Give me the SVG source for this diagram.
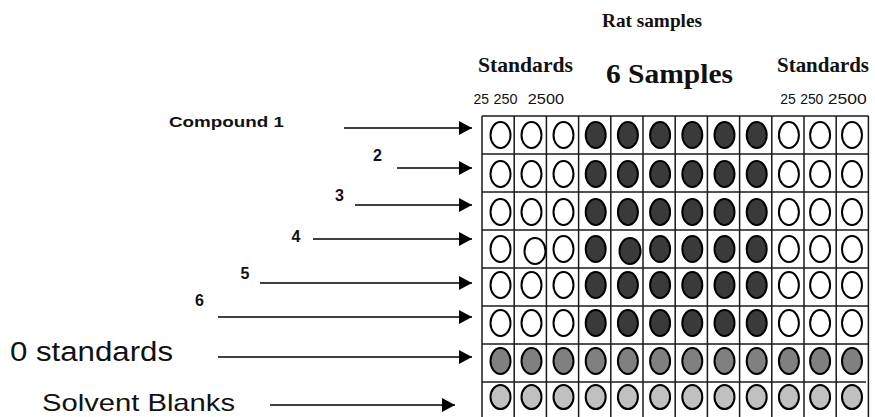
<svg xmlns="http://www.w3.org/2000/svg" width="875" height="417" viewBox="0 0 875 417">
<defs>
<marker id="ah" markerWidth="13" markerHeight="14" refX="13" refY="7" orient="auto" markerUnits="userSpaceOnUse">
<path d="M0,0 L13,7 L0,14 Z" fill="#000"/>
</marker>
<style>
.serif{font-family:"Liberation Serif","Times New Roman",serif;font-weight:bold;fill:#111}
.sans{font-family:"Liberation Sans",Arial,sans-serif;fill:#111}
.b{font-weight:bold}
.grid line{stroke:#1a1a1a;stroke-width:1.5}
.w{fill:#fff;stroke:#000;stroke-width:2}
.d{fill:#3a3a3a;stroke:#000;stroke-width:2}
.m{fill:#808080;stroke:#000;stroke-width:2}
.l{fill:#c0c0c0;stroke:#000;stroke-width:2}
.conn line{stroke:#000;stroke-width:1.3;marker-end:url(#ah)}
</style>
</defs>
<rect width="875" height="417" fill="#fff"/>

<g id="header">
<text class="serif" x="602" y="27" font-size="18" textLength="100" lengthAdjust="spacingAndGlyphs">Rat samples</text>
<text class="serif" x="478" y="72" font-size="21" textLength="95" lengthAdjust="spacingAndGlyphs">Standards</text>
<text class="serif" x="606" y="83" font-size="28" textLength="127" lengthAdjust="spacingAndGlyphs">6 Samples</text>
<text class="serif" x="777" y="72" font-size="21" textLength="92" lengthAdjust="spacingAndGlyphs">Standards</text>
<g class="sans" font-size="15">
<text x="473.5" y="104" textLength="15.5" lengthAdjust="spacingAndGlyphs">25</text>
<text x="493.5" y="104" textLength="24" lengthAdjust="spacingAndGlyphs">250</text>
<text x="527.8" y="104" textLength="36.2" lengthAdjust="spacingAndGlyphs">2500</text>
<text x="780.2" y="104" textLength="15.5" lengthAdjust="spacingAndGlyphs">25</text>
<text x="800.2" y="104" textLength="23.1" lengthAdjust="spacingAndGlyphs">250</text>
<text x="827.8" y="104" textLength="38.9" lengthAdjust="spacingAndGlyphs">2500</text>
</g>
</g>

<g id="label-compound1"><text class="sans b" x="169" y="127" font-size="15.5" textLength="115" lengthAdjust="spacingAndGlyphs">Compound 1</text></g>
<g id="label-2"><text class="sans b" x="373" y="161" font-size="16">2</text></g>
<g id="label-3"><text class="sans b" x="335" y="201" font-size="16">3</text></g>
<g id="label-4"><text class="sans b" x="291.5" y="242" font-size="16">4</text></g>
<g id="label-5"><text class="sans b" x="240.5" y="278.5" font-size="16">5</text></g>
<g id="label-6"><text class="sans b" x="195" y="306" font-size="16">6</text></g>
<g id="label-0std"><text class="sans" x="10" y="361" font-size="27" textLength="163" lengthAdjust="spacingAndGlyphs">0 standards</text></g>
<g id="label-blanks"><text class="sans" x="42" y="411" font-size="24" textLength="193" lengthAdjust="spacingAndGlyphs">Solvent Blanks</text></g>

<g id="plate">
<g class="grid">
<line x1="482" y1="116" x2="868.5" y2="116"/>
<line x1="482" y1="154" x2="868.5" y2="154"/>
<line x1="482" y1="192" x2="868.5" y2="192"/>
<line x1="482" y1="230" x2="868.5" y2="230"/>
<line x1="482" y1="268" x2="868.5" y2="268"/>
<line x1="482" y1="306" x2="868.5" y2="306"/>
<line x1="482" y1="344" x2="868.5" y2="344"/>
<line x1="482" y1="382" x2="866" y2="382"/>
<line x1="482" y1="116" x2="482" y2="417"/>
<line x1="514.2" y1="116" x2="514.2" y2="417"/>
<line x1="546.4" y1="116" x2="546.4" y2="417"/>
<line x1="578.6" y1="116" x2="578.6" y2="417"/>
<line x1="610.8" y1="116" x2="610.8" y2="417"/>
<line x1="643" y1="116" x2="643" y2="417"/>
<line x1="675.2" y1="116" x2="675.2" y2="417"/>
<line x1="707.4" y1="116" x2="707.4" y2="417"/>
<line x1="739.6" y1="116" x2="739.6" y2="417"/>
<line x1="771.8" y1="116" x2="771.8" y2="417"/>
<line x1="804" y1="116" x2="804" y2="417"/>
<line x1="836.2" y1="116" x2="836.2" y2="417"/>
<line x1="868.4" y1="116" x2="868.4" y2="417"/>
</g>
<g id="row1">
<ellipse class="w" cx="500.5" cy="135" rx="10" ry="13"/><ellipse class="w" cx="531.5" cy="135" rx="10" ry="13"/><ellipse class="w" cx="563.5" cy="135" rx="10" ry="13"/>
<ellipse class="d" cx="595.7" cy="135" rx="10" ry="13"/><ellipse class="d" cx="627.9" cy="135" rx="10" ry="13"/><ellipse class="d" cx="660.1" cy="135" rx="10" ry="13"/>
<ellipse class="d" cx="692.3" cy="135" rx="10" ry="13"/><ellipse class="d" cx="724.5" cy="135" rx="10" ry="13"/><ellipse class="d" cx="756.7" cy="135" rx="10" ry="13"/>
<ellipse class="w" cx="788.9" cy="135" rx="10" ry="13"/><ellipse class="w" cx="820.1" cy="135" rx="10" ry="13"/><ellipse class="w" cx="852" cy="135" rx="10" ry="13"/>
</g>
<g id="row2">
<ellipse class="w" cx="500.5" cy="174" rx="10" ry="13"/><ellipse class="w" cx="531.5" cy="174" rx="10" ry="13"/><ellipse class="w" cx="563.5" cy="174" rx="10" ry="13"/>
<ellipse class="d" cx="595.7" cy="174" rx="10" ry="13"/><ellipse class="d" cx="627.9" cy="174" rx="10" ry="13"/><ellipse class="d" cx="660.1" cy="174" rx="10" ry="13"/>
<ellipse class="d" cx="692.3" cy="174" rx="10" ry="13"/><ellipse class="d" cx="724.5" cy="174" rx="10" ry="13"/><ellipse class="d" cx="756.7" cy="174" rx="10" ry="13"/>
<ellipse class="w" cx="788.9" cy="174" rx="10" ry="13"/><ellipse class="w" cx="820.1" cy="174" rx="10" ry="13"/><ellipse class="w" cx="852" cy="174" rx="10" ry="13"/>
</g>
<g id="row3">
<ellipse class="w" cx="500.5" cy="212" rx="10" ry="13"/><ellipse class="w" cx="531.5" cy="212" rx="10" ry="13"/><ellipse class="w" cx="563.5" cy="212" rx="10" ry="13"/>
<ellipse class="d" cx="595.7" cy="212" rx="10" ry="13"/><ellipse class="d" cx="627.9" cy="212" rx="10" ry="13"/><ellipse class="d" cx="660.1" cy="212" rx="10" ry="13"/>
<ellipse class="d" cx="692.3" cy="212" rx="10" ry="13"/><ellipse class="d" cx="724.5" cy="212" rx="10" ry="13"/><ellipse class="d" cx="756.7" cy="212" rx="10" ry="13"/>
<ellipse class="w" cx="788.9" cy="212" rx="10" ry="13"/><ellipse class="w" cx="820.1" cy="212" rx="10" ry="13"/><ellipse class="w" cx="852" cy="212" rx="10" ry="13"/>
</g>
<g id="row4">
<ellipse class="w" cx="500.5" cy="249" rx="10" ry="13"/><ellipse class="w" cx="535" cy="251" rx="10.5" ry="13"/><ellipse class="w" cx="563.5" cy="249" rx="10" ry="13"/>
<ellipse class="d" cx="595.7" cy="249" rx="10" ry="13"/><ellipse class="d" cx="630" cy="251" rx="10.5" ry="13"/><ellipse class="d" cx="660.1" cy="249" rx="10" ry="13"/>
<ellipse class="d" cx="692.3" cy="249" rx="10" ry="13"/><ellipse class="d" cx="724.5" cy="249" rx="10" ry="13"/><ellipse class="d" cx="756.7" cy="249" rx="10" ry="13"/>
<ellipse class="w" cx="788.9" cy="249" rx="10" ry="13"/><ellipse class="w" cx="820.1" cy="249" rx="10" ry="13"/><ellipse class="w" cx="852" cy="249" rx="10" ry="13"/>
</g>
<g id="row5">
<ellipse class="w" cx="500.5" cy="285" rx="10" ry="13"/><ellipse class="w" cx="531.5" cy="285" rx="10" ry="13"/><ellipse class="w" cx="563.5" cy="285" rx="10" ry="13"/>
<ellipse class="d" cx="595.7" cy="285" rx="10" ry="13"/><ellipse class="d" cx="627.9" cy="285" rx="10" ry="13"/><ellipse class="d" cx="660.1" cy="285" rx="10" ry="13"/>
<ellipse class="d" cx="692.3" cy="285" rx="10" ry="13"/><ellipse class="d" cx="724.5" cy="285" rx="10" ry="13"/><ellipse class="d" cx="756.7" cy="285" rx="10" ry="13"/>
<ellipse class="w" cx="788.9" cy="285" rx="10" ry="13"/><ellipse class="w" cx="820.1" cy="285" rx="10" ry="13"/><ellipse class="w" cx="852" cy="285" rx="10" ry="13"/>
</g>
<g id="row6">
<ellipse class="w" cx="500.5" cy="323" rx="10" ry="13"/><ellipse class="w" cx="531.5" cy="323" rx="10" ry="13"/><ellipse class="w" cx="563.5" cy="323" rx="10" ry="13"/>
<ellipse class="d" cx="595.7" cy="323" rx="10" ry="13"/><ellipse class="d" cx="627.9" cy="323" rx="10" ry="13"/><ellipse class="d" cx="660.1" cy="323" rx="10" ry="13"/>
<ellipse class="d" cx="692.3" cy="323" rx="10" ry="13"/><ellipse class="d" cx="724.5" cy="323" rx="10" ry="13"/><ellipse class="d" cx="756.7" cy="323" rx="10" ry="13"/>
<ellipse class="w" cx="788.9" cy="323" rx="10" ry="13"/><ellipse class="w" cx="820.1" cy="323" rx="10" ry="13"/><ellipse class="w" cx="852" cy="323" rx="10" ry="13"/>
</g>
<g id="row7">
<ellipse class="m" cx="500.5" cy="361" rx="10" ry="13"/><ellipse class="m" cx="531.5" cy="361" rx="10" ry="13"/><ellipse class="m" cx="563.5" cy="361" rx="10" ry="13"/>
<ellipse class="m" cx="595.7" cy="361" rx="10" ry="13"/><ellipse class="m" cx="627.9" cy="361" rx="10" ry="13"/><ellipse class="m" cx="660.1" cy="361" rx="10" ry="13"/>
<ellipse class="m" cx="692.3" cy="361" rx="10" ry="13"/><ellipse class="m" cx="724.5" cy="361" rx="10" ry="13"/><ellipse class="m" cx="756.7" cy="361" rx="10" ry="13"/>
<ellipse class="m" cx="788.9" cy="361" rx="10" ry="13"/><ellipse class="m" cx="820.1" cy="361" rx="10" ry="13"/><ellipse class="m" cx="852" cy="361" rx="10" ry="13"/>
</g>
<g id="row8">
<ellipse class="l" cx="500.5" cy="397" rx="10" ry="12"/><ellipse class="l" cx="531.5" cy="397" rx="10" ry="12"/><ellipse class="l" cx="563.5" cy="397" rx="10" ry="12"/>
<ellipse class="l" cx="595.7" cy="397" rx="10" ry="12"/><ellipse class="l" cx="627.9" cy="397" rx="10" ry="12"/><ellipse class="l" cx="660.1" cy="397" rx="10" ry="12"/>
<ellipse class="l" cx="692.3" cy="397" rx="10" ry="12"/><ellipse class="l" cx="724.5" cy="397" rx="10" ry="12"/><ellipse class="l" cx="756.7" cy="397" rx="10" ry="12"/>
<ellipse class="l" cx="788.9" cy="397" rx="10" ry="12"/><ellipse class="l" cx="820.1" cy="397" rx="10" ry="12"/><ellipse class="l" cx="852" cy="397" rx="10" ry="12"/>
</g>
</g>

<g id="connectors" class="conn">
<line x1="344" y1="128" x2="472" y2="128"/>
<line x1="397" y1="168" x2="472" y2="168"/>
<line x1="355" y1="205" x2="472" y2="205"/>
<line x1="313" y1="239" x2="472" y2="239"/>
<line x1="260" y1="283" x2="472" y2="283"/>
<line x1="218" y1="317" x2="472" y2="317"/>
<line x1="218" y1="357" x2="472" y2="357"/>
<line x1="270" y1="405" x2="455" y2="405"/>
</g>
</svg>
